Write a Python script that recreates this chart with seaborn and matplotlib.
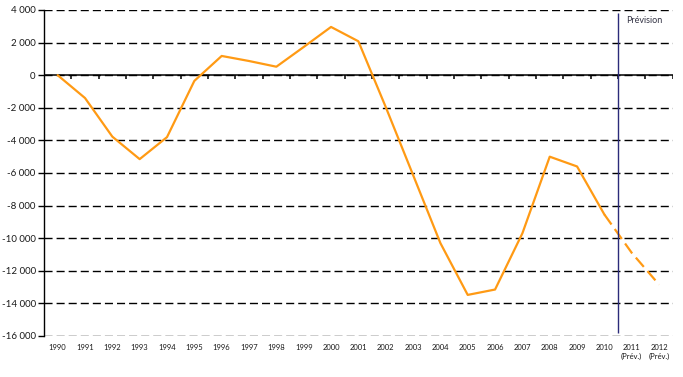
import numpy as np
import pandas as pd
import matplotlib
matplotlib.use("Agg")
import matplotlib.pyplot as plt
from matplotlib.ticker import FuncFormatter, FixedLocator
import seaborn as sns

# Data
years = ["1990", "1991", "1992", "1993", "1994", "1995", "1996", "1997", "1998",
         "1999", "2000", "2001", "2002", "2003", "2004", "2005", "2006", "2007",
         "2008", "2009", "2010", "2011", "2012"]
tick_labels = years[:21] + ["2011\n(Prév.)", "2012\n(Prév.)"]
values = [0, -1400, -3770, -5150, -3800, -350, 1180, 870, 520,
          1730, 2960, 2080, -1950, -6120, -10300, -13480, -13150, -9700,
          -5000, -5600, -8550, -10900, -12850]
first_forecast = 21  # 2011
forecast_label = "Prévision"

sns.set_style("white")
plt.rcParams["font.family"] = ["Lato", "DejaVu Sans"]

df = pd.DataFrame({"pos": np.arange(len(years)), "value": values, "year": years})
hist = df.iloc[:first_forecast]
prev = df.iloc[first_forecast - 1:]

fig = plt.figure(figsize=(6.83, 3.77), dpi=100)
ax = fig.add_axes([0.0644, 0.1088, 0.9206, 0.8647])

orange = "#FF9A14"
sns.lineplot(data=hist, x="pos", y="value", color=orange, lw=1.6, ax=ax, zorder=4)
sns.lineplot(data=prev, x="pos", y="value", color=orange, lw=1.6,
             linestyle=(0, (5.5, 2.5)), ax=ax, zorder=4)

ax.set_xlim(-0.5, len(years) - 0.5)
ax.set_ylim(-16000, 4000)
ax.set_xlabel("")
ax.set_ylabel("")

# horizontal dashed gridlines
ax.yaxis.set_major_locator(FixedLocator(np.arange(-16000, 4001, 2000)))
ax.yaxis.set_major_formatter(FuncFormatter(lambda v, p: f"{v:,.0f}".replace(",", " ")))
ax.grid(axis="y", color="black", lw=1.0, linestyle=(0, (5.8, 2.9)))
ax.grid(axis="x", visible=False)
ax.set_axisbelow(True)

for side in ["top", "right", "bottom"]:
    ax.spines[side].set_visible(False)
ax.spines["left"].set_color("black")
ax.spines["left"].set_linewidth(1.0)
ax.tick_params(axis="y", which="major", direction="out", length=4, width=1.0,
               color="black", labelsize=7, labelcolor="#1a1a1a", pad=2, left=True)

# category labels at the bottom
ax.set_xticks(df["pos"])
ax.set_xticklabels(tick_labels, fontsize=5.5, color="#1a1a1a", linespacing=1.3)
ax.tick_params(axis="x", length=0, pad=6)

# zero axis line with category boundary ticks
bounds = np.arange(-0.5, len(years), 1.0)
ax.axhline(0, color="black", lw=1.1, zorder=3)
ax.vlines(bounds, -260, 0, color="black", lw=1.1, zorder=3)

# forecast separator
split = first_forecast - 0.5
ax.vlines(split, -15800, 3800, color="#2B2B7A", lw=1.0, zorder=5)
ax.text(split + 0.3, 3350, forecast_label, fontsize=6.5, color="#333344",
        ha="left", va="center")

fig.savefig("out.png", dpi=100)
